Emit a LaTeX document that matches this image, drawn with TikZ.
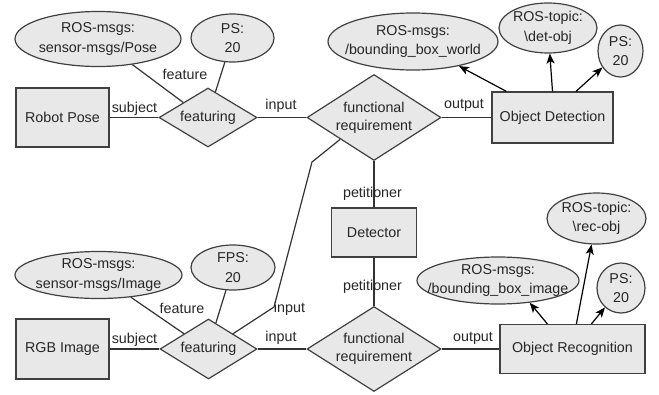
\documentclass[tikz,border=0pt]{standalone}
\usepackage{fontspec}
\setmainfont{Liberation Sans}
\usetikzlibrary{shapes.geometric,arrows.meta,calc}
\begin{document}
\begin{tikzpicture}[x=1pt,y=-1pt,
  every node/.style={font=\fontsize{14.3}{18}\selectfont, text=black!85},
  box/.style={draw=black!75, fill=gray!18, line width=1.2pt, rectangle, inner sep=0pt},
  dia/.style={draw=black!75, fill=gray!18, line width=1.2pt, diamond, inner sep=0pt, align=center},
  ell/.style={draw=black!75, fill=gray!18, line width=1.2pt, ellipse, inner sep=0pt},
  txt/.style={align=center, inner sep=0pt, font=\fontsize{14.3}{19.5}\selectfont},
  lbl/.style={inner sep=0pt},
  conn/.style={draw=black!80, line width=1.2pt},
  arr/.style={draw=black, line width=1.2pt, -{Stealth[length=10pt,width=8pt,inset=2.5pt]}},
]
\useasboundingbox (0,0) rectangle (659,394);

% ---- row 1
\node[box, minimum width=93, minimum height=59] (rp) at (62.5,117.5) {Robot Pose};
\node[dia, minimum width=98, minimum height=59, shape aspect=1.66] (f1) at (208,117.5) {featuring};
\node[dia, minimum width=134, minimum height=86, shape aspect=1.56] (fr1) at (374,117.5) {functional\\requirement};
\node[box, minimum width=121, minimum height=51] (od) at (552.5,117.5) {Object Detection};

\node[ell, minimum width=166, minimum height=55, label={[txt]center:{ROS-msgs:\\sensor-msgs/Pose}}] (e1) at (98,39) {};
\node[ell, minimum width=83, minimum height=48, label={[txt]center:{PS:\\20}}] (ps1) at (232.5,38) {};
\node[ell, minimum width=170, minimum height=57, label={[txt]center:{ROS-msgs:\\/bounding\_box\_world}}] (bbw) at (413,41.5) {};
\node[ell, minimum width=98, minimum height=50, label={[txt]center:{ROS-topic:\\\textbackslash det-obj}}] (det) at (548,28) {};
\node[ell, minimum width=45, minimum height=52, label={[txt]center:{PS:\\20}}] (ps2) at (620.5,51) {};

% ---- middle
\node[box, minimum width=85, minimum height=49] (dt) at (374,232.5) {Detector};

% ---- row 2
\node[box, minimum width=93, minimum height=60] (rgb) at (62.5,349) {RGB Image};
\node[dia, minimum width=97, minimum height=60, shape aspect=1.62] (f2) at (208.5,349) {featuring};
\node[dia, minimum width=134, minimum height=85, shape aspect=1.56] (fr2) at (374,349) {functional\\requirement};
\node[box, minimum width=145, minimum height=49] (orc) at (572.5,349) {Object Recognition};

\node[ell, minimum width=167, minimum height=47, label={[txt]center:{ROS-msgs:\\sensor-msgs/Image}}] (e2) at (98.5,275) {};
\node[ell, minimum width=84, minimum height=45, label={[txt]center:{FPS:\\20}}] (fps) at (233,267.5) {};
\node[ell, minimum width=162, minimum height=47, label={[txt]center:{ROS-msgs:\\/bounding\_box\_image}}] (bbi) at (498,280.5) {};
\node[ell, minimum width=99, minimum height=51, label={[txt]center:{ROS-topic:\\\textbackslash rec-obj}}] (rec) at (596.5,218.5) {};
\node[ell, minimum width=48, minimum height=50, label={[txt]center:{PS:\\20}}] (ps3) at (621,288) {};

% ---- connectors row 1
\draw[conn] (rp.east) -- (f1.west);
\draw[conn] (f1.east) -- (fr1.west);
\draw[conn] (fr1.east) -- (od.west);
\draw[conn] (e1) -- (f1.north west);
\draw[conn] (ps1) -- ($(f1.north)!0.15!(f1.east)$);
\draw[arr] ($(od.north west)+(15,0)$) -- (bbw);
\draw[arr] (od.north) -- (det);
\draw[arr] ($(od.north)+(23.5,0)$) -- (ps2);

% ---- detector
\draw[conn] (fr1.south) -- (dt.north);
\draw[conn] (dt.south) -- (fr2.north);
\coordinate (b1) at (312,162);
\coordinate (b2) at (274,307);
\draw[conn] (fr1.south west) -- (b1) -- (b2) -- (f2.north east);

% ---- connectors row 2
\draw[conn] (rgb.east) -- (f2.west);
\draw[conn] (f2.east) -- (fr2.west);
\draw[conn] (fr2.east) -- (orc.west);
\draw[conn] (e2) -- (f2.north west);
\draw[conn] (fps) -- ($(f2.north)!0.15!(f2.east)$);
\draw[arr] ($(orc.north west)+(48,0)$) -- (bbi.-35);
\draw[arr] ($(orc.north west)+(77,0)$) -- (rec);
\draw[arr] ($(orc.north west)+(92,0)$) -- (ps3);

% ---- labels
\node[lbl] (l1) at (185,74) {feature};
\node[lbl] (l2) at (134.5,109) {subject};
\node[lbl] (l3) at (281,106) {input};
\node[lbl] (l4) at (464,105) {output};
\node[lbl] (l5) at (372.5,193.5) {petitioner};
\node[lbl] (l6) at (372.5,286.5) {petitioner};
\node[lbl] (l7) at (182,308.5) {feature};
\node[lbl] (l8) at (134.5,339.5) {subject};
\node[lbl] (l9) at (281,338) {input};
\node[lbl] (l10) at (289.5,308.5) {input};
\node[lbl] (l11) at (473,338) {output};
\end{tikzpicture}
\end{document}
